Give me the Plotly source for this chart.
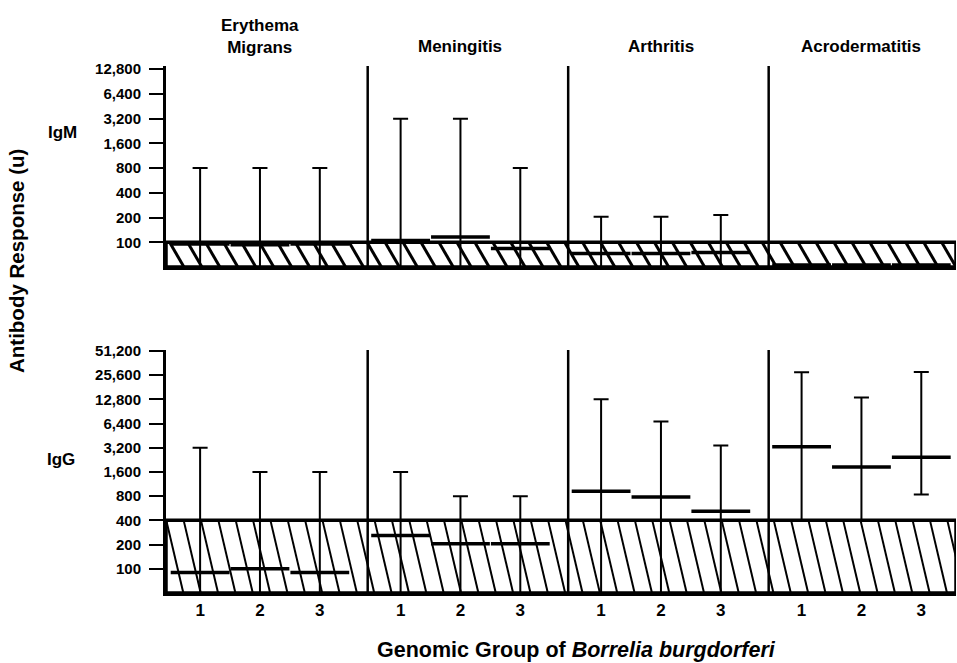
import numpy as np
import plotly.graph_objects as go

# ---------------- data ----------------
diseases = ["Erythema<br>Migrans", "Meningitis", "Arthritis", "Acrodermatitis"]
genomic_groups = ["1", "2", "3"]

igm_median = [95, 93, 95, 105, 116, 84, 73, 73, 75, 53, 53, 53]
igm_upper = [800, 800, 800, 3200, 3200, 800, 205, 205, 215, 53, 53, 53]
igm_lower = [50, 50, 50, 50, 50, 50, 50, 50, 50, 53, 53, 53]

igg_median = [90, 100, 90, 260, 205, 205, 920, 780, 520, 3300, 1840, 2430]
igg_upper = [3200, 1600, 1600, 1600, 800, 800, 12800, 6800, 3400, 27800, 13500, 27900]
igg_lower = [50, 50, 50, 50, 50, 50, 50, 50, 50, 400, 400, 840]

igm_ticks = [100, 200, 400, 800, 1600, 3200, 6400, 12800]
igg_ticks = [100, 200, 400, 800, 1600, 3200, 6400, 12800, 25600, 51200]

IGM_CUTOFF = 100
IGG_CUTOFF = 400
FLOOR = 50

# ---------------- layout helpers ----------------
DIS_STEP = 3.35
pos = [d * DIS_STEP + g for d in range(len(diseases)) for g in (1, 2, 3)]
seps = [d * DIS_STEP + 3.8 for d in range(len(diseases) - 1)]
X0, X1 = 0.43, 13.63
IGM_TOP = 14000
IGG_TOP = 52500

W, H = 957, 663
LEFT = 166
FONT = "Liberation Sans, Arial, sans-serif"


def py(px):
    return 1 - px / H


def pxx(px):
    return (px - LEFT) / (W - LEFT - 1)


def bold(t):
    return f"<b>{t}</b>"


fig = go.Figure()


def add_panel(xa, ya, cutoff, top, med, up, lo, dx, step, hw):
    # shaded "negative" region
    fig.add_trace(go.Scatter(
        x=[X0, X1, X1, X0, X0], y=[FLOOR, FLOOR, cutoff, cutoff, FLOOR],
        mode="lines", fill="toself", fillcolor="white",
        line=dict(color="black", width=3.5), xaxis=xa, yaxis=ya,
        hoverinfo="skip", showlegend=False))
    hx, hy = [], []
    t = X0 - dx - step
    while t < X1 + step:
        hx += [t, t + dx, None]
        hy += [cutoff, FLOOR, None]
        t += step
    fig.add_trace(go.Scatter(
        x=hx, y=hy, mode="lines", line=dict(color="black", width=hw),
        xaxis=xa, yaxis=ya, hoverinfo="skip", showlegend=False))
    # disease separators
    sx, sy = [], []
    for s in seps:
        sx += [s, s, None]
        sy += [FLOOR, top, None]
    fig.add_trace(go.Scatter(
        x=sx, y=sy, mode="lines", line=dict(color="black", width=2.5),
        xaxis=xa, yaxis=ya, hoverinfo="skip", showlegend=False))
    # medians with ranges
    fig.add_trace(go.Scatter(
        x=pos, y=med, mode="markers",
        marker=dict(symbol="line-ew", size=42, color="black",
                    line=dict(color="black", width=3.5)),
        error_y=dict(type="data", symmetric=False,
                     array=[u - m for u, m in zip(up, med)],
                     arrayminus=[m - l for m, l in zip(med, lo)],
                     color="black", thickness=2, width=7.5),
        xaxis=xa, yaxis=ya, showlegend=False))


add_panel("x", "y", IGM_CUTOFF, IGM_TOP, igm_median, igm_upper, igm_lower,
          0.24, 0.30, 3)
add_panel("x2", "y2", IGG_CUTOFF, IGG_TOP, igg_median, igg_upper, igg_lower,
          0.285, 0.29, 2)

tick_font = dict(family=FONT, size=15, color="black")
yax_common = dict(type="log", showgrid=False, zeroline=False, showline=True,
                  linecolor="black", linewidth=3, ticks="outside", ticklen=14,
                  tickwidth=2, tickcolor="black", tickfont=tick_font,
                  ticklabelstandoff=5, automargin=False)
xax_common = dict(range=[X0, X1], showgrid=False, zeroline=False,
                  showline=True, linecolor="black", linewidth=3,
                  automargin=False)

fig.update_layout(
    width=W, height=H,
    margin=dict(l=LEFT, r=1, t=0, b=0, autoexpand=False),
    paper_bgcolor="white", plot_bgcolor="white",
    font=dict(family=FONT, color="black"),
    xaxis=dict(**xax_common, anchor="y", showticklabels=False, ticks=""),
    yaxis=dict(**yax_common, anchor="x", domain=[py(267), py(66)],
               range=[np.log10(FLOOR), np.log10(IGM_TOP)],
               tickvals=igm_ticks,
               ticktext=[bold(f"{v:,}") for v in igm_ticks]),
    xaxis2=dict(**xax_common, anchor="y2", ticks="",
                tickvals=pos,
                ticktext=[bold(g) for g in genomic_groups] * len(diseases),
                tickfont=dict(family=FONT, size=17, color="black")),
    yaxis2=dict(**yax_common, anchor="x2", domain=[py(593), py(350)],
                range=[np.log10(FLOOR), np.log10(IGG_TOP)],
                tickvals=igg_ticks,
                ticktext=[bold(f"{v:,}") for v in igg_ticks]),
)

ann = []
for d, name in enumerate(diseases):
    ann.append(dict(text=bold(name), x=pos[d * 3 + 1], xref="x",
                    y=py(36) if "<br>" in name else py(46.5), yref="paper",
                    showarrow=False, xanchor="center", yanchor="middle",
                    font=dict(family=FONT, size=17, color="black")))
ann.append(dict(text=bold("IgM"), x=pxx(62), y=py(133), xref="paper",
                yref="paper", showarrow=False, xanchor="center",
                yanchor="middle", font=dict(family=FONT, size=17, color="black")))
ann.append(dict(text=bold("IgG"), x=pxx(61), y=py(459), xref="paper",
                yref="paper", showarrow=False, xanchor="center",
                yanchor="middle", font=dict(family=FONT, size=17, color="black")))
ann.append(dict(text=bold("Antibody Response (u)"), x=pxx(17), y=py(261),
                xref="paper", yref="paper", textangle=-90, showarrow=False,
                xanchor="center", yanchor="middle",
                font=dict(family=FONT, size=20.5, color="black")))
ann.append(dict(text=bold("Genomic Group of <i>Borrelia burgdorferi</i>"),
                x=pxx(576), y=py(650), xref="paper", yref="paper",
                showarrow=False, xanchor="center", yanchor="middle",
                font=dict(family=FONT, size=21.5, color="black")))
fig.update_layout(annotations=ann)

fig.write_html("out.html",
               config={"displayModeBar": False},
               post_script="document.body.style.margin='0';"
                           "document.body.style.overflow='hidden';")
